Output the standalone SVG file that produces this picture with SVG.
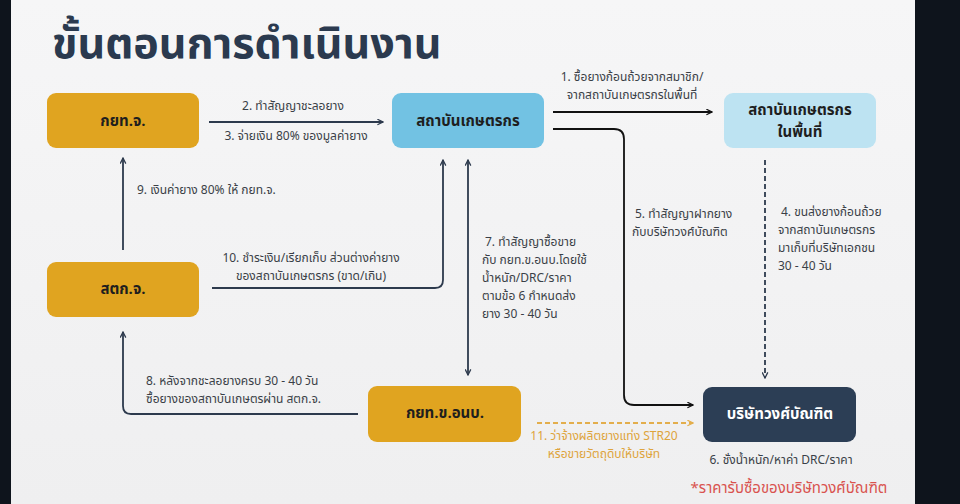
<svg xmlns="http://www.w3.org/2000/svg" width="960" height="504" viewBox="0 0 960 504">
<defs>
<linearGradient id="bg" x1="0" y1="0" x2="0" y2="1">
<stop offset="0" stop-color="#f6f6f7"/>
<stop offset="1" stop-color="#efeff0"/>
</linearGradient>
<marker id="an" viewBox="0 0 10 10" refX="9" refY="5" markerWidth="7" markerHeight="7" orient="auto-start-reverse" markerUnits="userSpaceOnUse">
<path d="M1,1 L9,5 L1,9" fill="none" stroke="#2d3a4d" stroke-width="1.8"/>
</marker>
<marker id="ab" viewBox="0 0 10 10" refX="9" refY="5" markerWidth="7" markerHeight="7" orient="auto" markerUnits="userSpaceOnUse">
<path d="M1,1 L9,5 L1,9" fill="none" stroke="#111" stroke-width="1.8"/>
</marker>
<marker id="ao" viewBox="0 0 10 10" refX="9" refY="5" markerWidth="7" markerHeight="7" orient="auto" markerUnits="userSpaceOnUse">
<path d="M1,1 L9,5 L1,9" fill="none" stroke="#e3ae4c" stroke-width="1.8"/>
</marker>
</defs>
<style>
text{font-family:"Noto Sans Thai","Noto Sans","DejaVu Sans",sans-serif}
.title{font-size:43px;font-weight:700;fill:#2b3a4f}
.nl{font-size:15px;font-weight:700;fill:#1e1e1e;text-anchor:middle}
.lb{font-size:12px;fill:#3a3f47}
.c{text-anchor:middle}
.ln{fill:none;stroke:#2d3a4d;stroke-width:1.8}
.lk{fill:none;stroke:#111;stroke-width:1.8}
.ld{fill:none;stroke:#2d3a4d;stroke-width:1.8;stroke-dasharray:5,3}
.lo{fill:none;stroke:#e3ae4c;stroke-width:1.8;stroke-dasharray:5,3}
.gold{fill:#e0a420}
</style>
<rect x="0" y="0" width="960" height="504" fill="#0e141c"/>
<rect x="11" y="0" width="904" height="504" fill="url(#bg)"/>
<text class="title" x="52" y="58">ขั้นตอนการดำเนินงาน</text>

<g id="connectors">
<line class="ln" x1="209" y1="122" x2="383" y2="122" marker-end="url(#an)"/>
<line class="lk" x1="553" y1="112" x2="712" y2="112" marker-end="url(#ab)"/>
<path class="lk" d="M553,129 H614 Q624,129 624,139 V395 Q624,405 634,405 H693" marker-end="url(#ab)"/>
<line class="ld" x1="765" y1="160" x2="765" y2="378" marker-end="url(#an)"/>
<line class="ln" x1="468" y1="160" x2="468" y2="375" marker-start="url(#an)" marker-end="url(#an)"/>
<path class="ln" d="M212,288 H435 Q443,288 443,280 V160" marker-end="url(#an)"/>
<line class="ln" x1="123" y1="250" x2="123" y2="158" marker-end="url(#an)"/>
<path class="ln" d="M358,414 H131 Q123,414 123,406 V332" marker-end="url(#an)"/>
<line class="lo" x1="537" y1="423" x2="693" y2="423" marker-end="url(#ao)"/>
</g>

<g id="labels">
<text class="lb c" x="293" y="110">2. ทำสัญญาชะลอยาง</text>
<text class="lb c" x="296" y="140">3. จ่ายเงิน 80% ของมูลค่ายาง</text>
<text class="lb c" x="632" y="81" fill="#222">1. ซื้อยางก้อนถ้วยจากสมาชิก/</text>
<text class="lb c" x="632" y="99">จากสถาบันเกษตรกรในพื้นที่</text>
<text class="lb" x="635" y="218">5. ทำสัญญาฝากยาง</text>
<text class="lb" x="632" y="236">กับบริษัทวงศ์บัณฑิต</text>
<text class="lb" x="781" y="216">4. ขนส่งยางก้อนถ้วย</text>
<text class="lb" x="778" y="234">จากสถาบันเกษตรกร</text>
<text class="lb" x="778" y="252">มาเก็บที่บริษัทเอกชน</text>
<text class="lb" x="778" y="270">30 - 40 วัน</text>
<text class="lb" x="485" y="246">7. ทำสัญญาซื้อขาย</text>
<text class="lb" x="482" y="264">กับ กยท.ข.อนบ.โดยใช้</text>
<text class="lb" x="482" y="282">น้ำหนัก/DRC/ราคา</text>
<text class="lb" x="482" y="300">ตามข้อ 6 กำหนดส่ง</text>
<text class="lb" x="482" y="318">ยาง 30 - 40 วัน</text>
<text class="lb" x="137" y="194">9. เงินค่ายาง 80% ให้ กยท.จ.</text>
<text class="lb c" x="311" y="262">10. ชำระเงิน/เรียกเก็บ ส่วนต่างค่ายาง</text>
<text class="lb c" x="311" y="280">ของสถาบันเกษตรกร (ขาด/เกิน)</text>
<text class="lb" x="146" y="385">8. หลังจากชะลอยางครบ 30 - 40 วัน</text>
<text class="lb" x="146" y="403">ซื้อยางของสถาบันเกษตรผ่าน สตก.จ.</text>
<text class="lb c" x="604" y="440" style="fill:#dea43c">11. ว่าจ้างผลิตยางแท่ง STR20</text>
<text class="lb c" x="604" y="458" style="fill:#dea43c">หรือขายวัตถุดิบให้บริษัท</text>
<text class="lb c" x="781" y="464">6. ชั่งน้ำหนัก/หาค่า DRC/ราคา</text>
<text class="c" x="789" y="493" style="font-size:15px;fill:#d9534f">*ราคารับซื้อของบริษัทวงศ์บัณฑิต</text>
</g>

<g id="n-kyt-j">
<rect class="gold" x="47" y="93" width="152" height="55" rx="9"/>
<text class="nl" x="123" y="126">กยท.จ.</text>
</g>
<g id="n-sathaban">
<rect x="392" y="93" width="152" height="55" rx="9" fill="#72c2e3"/>
<text class="nl" x="468" y="126">สถาบันเกษตรกร</text>
</g>
<g id="n-sathaban-local">
<rect x="724" y="93" width="152" height="55" rx="9" fill="#bde3f2"/>
<text class="nl" x="800" y="115">สถาบันเกษตรกร</text>
<text class="nl" x="800" y="137">ในพื้นที่</text>
</g>
<g id="n-stk-j">
<rect class="gold" x="47" y="262" width="152" height="55" rx="9"/>
<text class="nl" x="123" y="294">สตก.จ.</text>
</g>
<g id="n-kyt-k">
<rect class="gold" x="368" y="386" width="153" height="56" rx="9"/>
<text class="nl" x="445" y="418">กยท.ข.อนบ.</text>
</g>
<g id="n-company">
<rect x="703" y="387" width="153" height="55" rx="9" fill="#2c3e55"/>
<text class="nl" x="780" y="419" style="fill:#fff">บริษัทวงศ์บัณฑิต</text>
</g>
</svg>
